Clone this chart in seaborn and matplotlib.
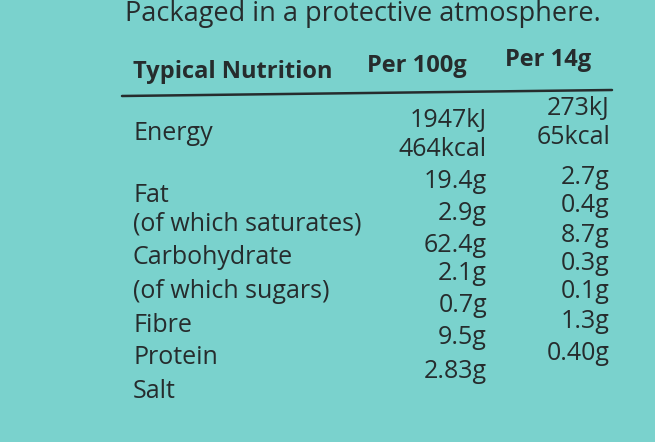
import matplotlib
matplotlib.use("Agg")
import matplotlib.pyplot as plt
import seaborn as sns

sns.set_theme(style="white")
plt.rcParams['font.family'] = ['Open Sans', 'DejaVu Sans']

title = "Packaged in a protective atmosphere."
headers = ["Typical Nutrition", "Per 100g", "Per 14g"]
nutrients = ["Energy", "", "Fat", "(of which saturates)", "Carbohydrate",
             "(of which sugars)", "Fibre", "Protein", "Salt"]
per100 = ["1947kJ", "464kcal", "19.4g", "2.9g", "62.4g", "2.1g", "0.7g", "9.5g", "2.83g"]
per14 = ["273kJ", "65kcal", "2.7g", "0.4g", "8.7g", "0.3g", "0.1g", "1.3g", "0.40g"]

label_y = [133, None, 196, 224, 258, 292, 325, 357, 392]
p100_y = [120, 150, 182, 213, 246, 274, 306, 338, 372]
p14_y = [108, 138, 178, 206, 236, 263, 292, 322, 354]

fig = plt.figure(figsize=(6.55, 4.42), dpi=100)
fig.patch.set_facecolor("#7ad2cd")
ax = fig.add_axes([0, 0, 1, 1])
ax.set_facecolor("#7ad2cd")
ax.set_xlim(0, 655)
ax.set_ylim(442, 0)
ax.axis("off")

ink = "#262c2d"
fs = 18
ax.text(125, 14, title, fontsize=19.5, color=ink, va="center", ha="left")
ax.text(133, 72, headers[0], fontsize=17, color=ink, va="center", fontweight="bold")
ax.text(367, 66, headers[1], fontsize=17, color=ink, va="center", fontweight="bold")
ax.text(505, 60, headers[2], fontsize=17, color=ink, va="center", fontweight="bold")
ax.plot([122, 612], [96, 90], color=ink, lw=1.8)

for name, y in zip(nutrients, label_y):
    if name and y is not None:
        ax.text(133, y, name, fontsize=fs, color=ink, va="center", ha="left")
for v, y in zip(per100, p100_y):
    ax.text(487, y, v, fontsize=fs, color=ink, va="center", ha="right")
for v, y in zip(per14, p14_y):
    ax.text(610, y, v, fontsize=fs, color=ink, va="center", ha="right")

fig.savefig("out.png", dpi=100, facecolor=fig.get_facecolor())
